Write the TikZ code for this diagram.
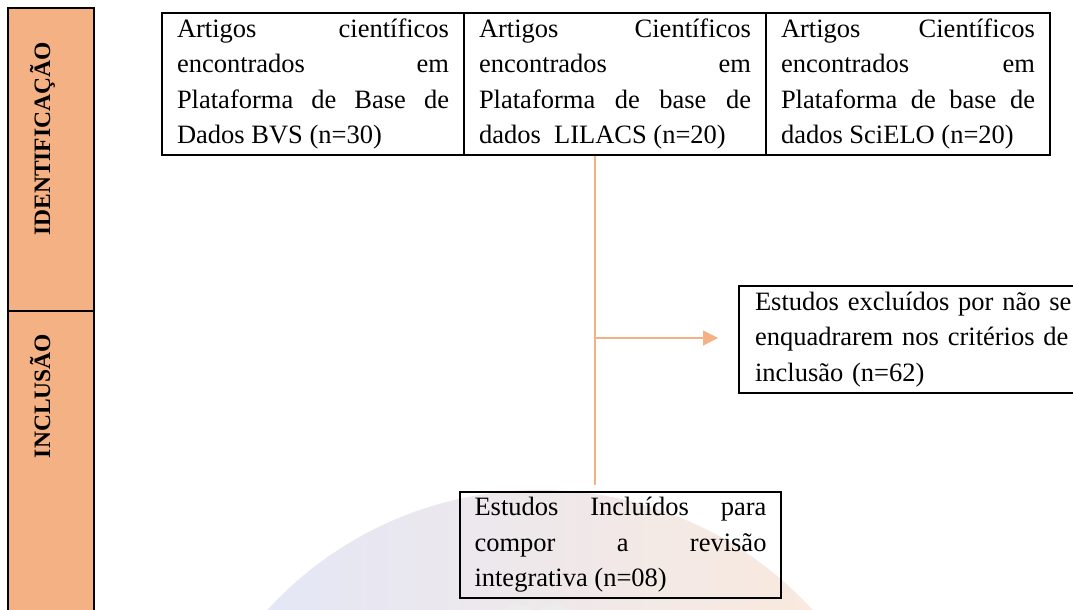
\documentclass[tikz,border=0pt]{standalone}
\usepackage{fontspec}
\setmainfont{Liberation Serif}
\usetikzlibrary{arrows.meta,positioning}
\definecolor{laranja}{RGB}{244,177,131}
\definecolor{azulmarca}{RGB}{224,230,250}
\definecolor{laranjamarca}{RGB}{253,234,218}
\tolerance=10000
\hbadness=10000
\hyphenpenalty=10000

\begin{document}
\begin{tikzpicture}[x=1pt,y=-1pt,
    caixa/.style={draw,line width=2pt,anchor=north west,inner xsep=15pt,inner ysep=0pt,
      align=justify,font=\fontsize{26.5}{35.5}\selectfont},
    faixa/.style={draw,line width=2pt,fill=laranja},
    rotulo/.style={rotate=90,anchor=base,inner sep=0pt,font=\fontsize{23.5}{27}\selectfont\bfseries},
    linha/.style={draw=laranja,line width=1.3pt}]
  \useasboundingbox (0,0) rectangle (1073,610);

  % Marca d'agua ao fundo
  \begin{scope}
    \clip (0,0) rectangle (1073,610);
    \shade[left color=azulmarca,right color=laranjamarca] (540,860) circle[radius=370];
    \fill[gray!15] (518,628) circle[radius=24];
    \fill[gray!15] (554,628) circle[radius=24];
  \end{scope}

  % Faixa lateral com as etapas
  \draw[faixa] (8,8) rectangle (94,311);
  \draw[faixa] (8,311) rectangle (94,620);
  \node[rotulo] (T1) at (50,139) {IDENTIFICAÇÃO};
  \node[rotulo] (T2) at (50,396) {INCLUSÃO};

  % Bases de dados
  \node[caixa,text width=272pt,minimum height=142pt] (B1) at (161,12)
    {Artigos científicos\linebreak encontrados em\linebreak Plataforma de Base de\linebreak Dados BVS (n=30)};
  \node[caixa,text width=272pt,minimum height=142pt] (B2) at (463,12)
    {Artigos Científicos\linebreak encontrados em\linebreak Plataforma de base de\linebreak dados\ \ LILACS (n=20)};
  \node[caixa,text width=254pt,minimum height=142pt] (B3) at (765,12)
    {Artigos Científicos\linebreak encontrados em\linebreak Plataforma de base de\linebreak dados SciELO (n=20)};

  % Excluidos e incluidos
  \node[caixa,align=left,text width=320pt,inner xsep=16pt,minimum height=107pt] (E) at (738,285)
    {Estudos excluídos por não se\\ enquadrarem nos critérios de\\ inclusão (n=62)};
  \node[caixa,text width=292pt,inner xsep=14.5pt,minimum height=106pt] (I) at (459,491)
    {Estudos Incluídos para\linebreak compor a revisão\linebreak integrativa (n=08)};

  % Linhas de ligacao
  \coordinate (S) at (595,338);
  \draw[linha] (B2.south -| S) -- ([yshift=6pt]I.north -| S);
  \draw[linha,-{Triangle[length=15pt,width=15pt]}] (S) -- ([xshift=-20pt]E.west |- S);
\end{tikzpicture}
\end{document}
